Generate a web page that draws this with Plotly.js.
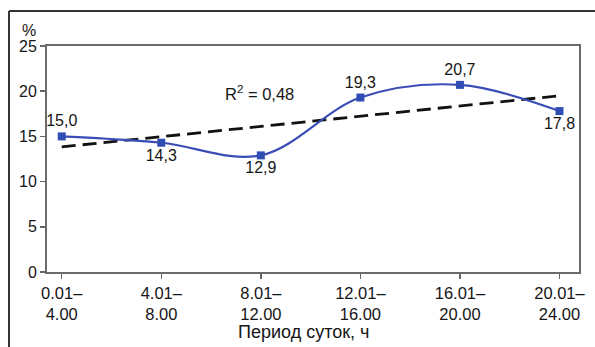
<!DOCTYPE html>
<html>
<head>
<meta charset="utf-8">
<script src="https://cdn.plot.ly/plotly-3.0.1.min.js"></script>
<style>html,body{margin:0;padding:0;background:#fff;}#chart{width:595px;height:347px;}</style>
</head>
<body>
<div id="chart"></div>
<script>
const categories = ["0.01–<br>4.00", "4.01–<br>8.00", "8.01–<br>12.00", "12.01–<br>16.00", "16.01–<br>20.00", "20.01–<br>24.00"];
const values = [15.0, 14.3, 12.9, 19.3, 20.7, 17.8];
const labelPositions = ["top center", "bottom center", "bottom center", "top center", "top center", "bottom center"];
const yTicks = [0, 5, 10, 15, 20, 25];
const r2Text = "R<sup>2</sup> = 0,48";
const xTitle = "Период суток, ч";
const yUnit = "%";

const xIdx = values.map((_, i) => i);
// linear trend (least squares) from the data
const n = values.length;
const mx = xIdx.reduce((a, b) => a + b, 0) / n;
const my = values.reduce((a, b) => a + b, 0) / n;
let sxy = 0, sxx = 0;
for (let i = 0; i < n; i++) { sxy += (xIdx[i] - mx) * (values[i] - my); sxx += (xIdx[i] - mx) ** 2; }
const slope = sxy / sxx, icpt = my - slope * mx;
const trendX = [xIdx[0], xIdx[n - 1]];
const trendY = trendX.map(x => icpt + slope * x);

const font = "Liberation Sans, Arial, sans-serif";
const txt = "#151515";
const traces = [
  {
    x: trendX, y: trendY, mode: "lines", type: "scatter",
    line: {color: "#111", width: 2.8, dash: "14px,7px"},
    hoverinfo: "skip", showlegend: false
  },
  {
    x: xIdx, y: values, mode: "lines+markers+text", type: "scatter",
    line: {color: "#3a4cb5", width: 2.2, shape: "spline", smoothing: 1},
    marker: {symbol: "square", size: 8, color: "#2f4db3"},
    text: values.map(v => v.toFixed(1).replace(".", ",")),
    textposition: labelPositions,
    textfont: {family: font, size: 16, color: txt},
    cliponaxis: false, showlegend: false
  }
];

const layout = {
  width: 595, height: 347,
  margin: {l: 47, r: 16, t: 46, b: 75},
  paper_bgcolor: "#fff", plot_bgcolor: "#fff",
  font: {family: font, size: 16, color: txt},
  xaxis: {
    range: [-0.148, 5.196], tickmode: "array", tickvals: xIdx, ticktext: categories,
    ticks: "outside", ticklen: 5, tickcolor: "#666", tickwidth: 1.5,
    showgrid: false, zeroline: false, showline: true, linecolor: "#6b6b6b", linewidth: 2, mirror: true,
    tickfont: {family: font, size: 16.5, color: txt}
  },
  yaxis: {
    range: [0, 25], tickmode: "array", tickvals: yTicks,
    ticks: "outside", ticklen: 5, tickcolor: "#666", tickwidth: 1.5,
    showgrid: false, zeroline: false, showline: true, linecolor: "#6b6b6b", linewidth: 2, mirror: true,
    tickfont: {family: font, size: 16, color: txt}
  },
  annotations: [
    {text: yUnit, xref: "paper", yref: "paper", x: -0.034, y: 1.068, xanchor: "center", yanchor: "middle",
     showarrow: false, font: {family: font, size: 16, color: txt}},
    {text: r2Text, xref: "x", yref: "y", x: 1.99, y: 19.8, showarrow: false,
     font: {family: font, size: 16.5, color: txt}},
    {text: xTitle, xref: "paper", yref: "paper", x: 0.483, y: -0.265, xanchor: "center", yanchor: "middle",
     showarrow: false, font: {family: font, size: 18, color: txt}}
  ],
  shapes: [
    {type: "line", xref: "paper", yref: "paper", x0: -0.0714, x1: 1.1, y0: 1.155, y1: 1.155,
     line: {color: "#333", width: 2}},
    {type: "line", xref: "paper", yref: "paper", x0: -0.0714, x1: -0.0714, y0: 1.155, y1: -0.4,
     line: {color: "#333", width: 2}}
  ]
};

Plotly.newPlot("chart", traces, layout, {staticPlot: true, displayModeBar: false});
</script>
</body>
</html>
